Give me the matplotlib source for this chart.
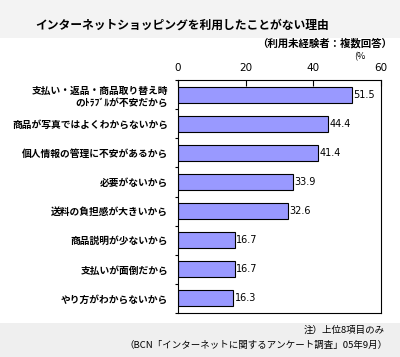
import matplotlib
matplotlib.use("Agg")
import matplotlib.pyplot as plt
from matplotlib.patches import Rectangle
import numpy as np

plt.rcParams['font.family'] = ['Noto Sans CJK JP', 'DejaVu Sans']

categories = [
    "支払い・返品・商品取り替え時\nのﾄﾗﾌﾞﾙが不安だから",
    "商品が写真ではよくわからないから",
    "個人情報の管理に不安があるから",
    "必要がないから",
    "送料の負担感が大きいから",
    "商品説明が少ないから",
    "支払いが面倒だから",
    "やり方がわからないから",
]
values = [51.5, 44.4, 41.4, 33.9, 32.6, 16.7, 16.7, 16.3]
xticks = [0, 20, 40, 60]

fig = plt.figure(figsize=(4.0, 3.57), dpi=100)
fig.patch.set_facecolor('white')
# background bands
fig.add_artist(Rectangle((0, 1 - 38/357), 1, 38/357, transform=fig.transFigure,
                         facecolor='#f3f3f3', edgecolor='none', zorder=0))
fig.add_artist(Rectangle((0, 0), 1, 34/357, transform=fig.transFigure,
                         facecolor='#efefef', edgecolor='none', zorder=0))

ax = fig.add_axes([178/400, 1 - 313/357, (381 - 178)/400, (313 - 80)/357])
y = np.arange(len(categories))
ax.barh(y, values, height=0.55, color='#9999ff', edgecolor='black', linewidth=0.8)
for yi, v in zip(y, values):
    ax.text(v + 0.4, yi, f"{v:.1f}", va='center', ha='left', fontsize=7,
            family=['DejaVu Sans'])
ax.set_xlim(0, 60)
ax.set_ylim(len(categories) - 0.5, -0.5)
ax.xaxis.tick_top()
ax.set_xticks(xticks)
ax.set_xticklabels([str(t) for t in xticks], fontsize=7.5, family=['DejaVu Sans'])
ax.tick_params(axis='x', direction='in', length=4, width=0.8, pad=5)
ax.set_yticks(y)
ax.set_yticklabels(categories, fontsize=7, fontweight='bold', linespacing=1.3)
ax.set_yticks(np.arange(len(categories) + 1) - 0.5, minor=True)
ax.tick_params(axis='y', which='major', length=0, pad=7)
ax.tick_params(axis='y', which='minor', direction='out', length=2, width=0.8)
for s in ax.spines.values():
    s.set_linewidth(0.8)
    s.set_color('black')

fig.text(35/400, 1 - 25/357, "インターネットショッピングを利用したことがない理由",
         fontsize=8.5, fontweight='bold', ha='left', va='center')
fig.text(392/400, 1 - 43/357, "（利用未経験者：複数回答）",
         fontsize=7.5, fontweight='bold', ha='right', va='center')
fig.text(360/400, 1 - 57/357, "(%", fontsize=6.5, ha='center', va='center')
fig.text(385/400, 1 - 330/357, "注）上位8項目のみ",
         fontsize=6.8, ha='right', va='center')
fig.text(388/400, 1 - 345/357, "（BCN「インターネットに関するアンケート調査」05年9月）",
         fontsize=6.8, ha='right', va='center')

fig.savefig("out.png", dpi=100)
